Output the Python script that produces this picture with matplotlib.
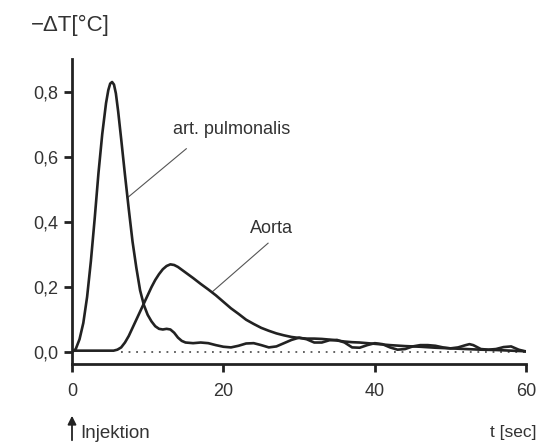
import matplotlib
matplotlib.use("Agg")
import matplotlib.pyplot as plt

plt.rcParams["font.family"] = ["Liberation Sans", "DejaVu Sans"]

# --- data ---
t_pulm = [0, 0.5, 1.0, 1.5, 2.0, 2.5, 3.0, 3.5, 4.0, 4.5, 4.8, 5.05, 5.3, 5.55, 5.8, 6.1, 6.5,
          7.0, 7.5, 8.0, 8.5, 9.0, 9.5, 10.0, 10.5, 11.0, 11.5, 12.0, 12.5, 13.0, 13.5, 14.0,
          14.5, 15.0, 16, 17, 18, 19, 20, 21, 22, 23, 24, 25, 26, 27, 28, 29, 30, 31, 32, 33,
          34, 35, 36, 37, 38, 39, 40, 41, 42, 43, 44, 45, 46, 47, 48, 49, 50, 51, 52, 52.5, 53,
          54, 55, 56, 57, 58, 59, 60]
y_pulm = [0.0, 0.01, 0.04, 0.09, 0.17, 0.28, 0.41, 0.55, 0.67, 0.765, 0.805, 0.825, 0.83,
          0.822, 0.795, 0.74, 0.655, 0.545, 0.44, 0.34, 0.26, 0.19, 0.145, 0.115, 0.095, 0.08,
          0.072, 0.07, 0.072, 0.07, 0.06, 0.045, 0.035, 0.03, 0.028, 0.03, 0.028, 0.022, 0.017,
          0.015, 0.02, 0.027, 0.028, 0.022, 0.015, 0.018, 0.028, 0.038, 0.045, 0.04, 0.03,
          0.03, 0.037, 0.038, 0.03, 0.015, 0.014, 0.022, 0.028, 0.025, 0.015, 0.008, 0.01,
          0.018, 0.022, 0.022, 0.02, 0.015, 0.012, 0.015, 0.022, 0.025, 0.022, 0.01, 0.008,
          0.01, 0.016, 0.018, 0.008, 0.002]

t_aorta = [0, 2, 4, 5.5, 6.0, 6.5, 7.0, 7.5, 8.0, 8.5, 9.0, 9.5, 10.0, 10.5, 11.0, 11.5, 12.0,
           12.5, 13.0, 13.5, 14.0, 15, 16, 17, 18, 19, 20, 21, 22, 23, 24, 25, 26, 27, 28, 29,
           30, 31, 32, 33, 34, 35, 36, 37, 38, 39, 40, 42, 44, 46, 48, 50, 52, 54, 56, 58, 60]
y_aorta = [0.005, 0.005, 0.005, 0.005, 0.008, 0.015, 0.03, 0.05, 0.075, 0.10, 0.125, 0.15,
           0.175, 0.2, 0.222, 0.24, 0.255, 0.265, 0.27, 0.268, 0.262, 0.245, 0.228, 0.21,
           0.193, 0.175, 0.155, 0.135, 0.118, 0.1, 0.087, 0.075, 0.066, 0.058, 0.052, 0.047,
           0.044, 0.042, 0.042, 0.041, 0.039, 0.036, 0.033, 0.031, 0.03, 0.028, 0.026, 0.022,
           0.019, 0.017, 0.014, 0.012, 0.01, 0.008, 0.007, 0.005, 0.003]

x_ticks = [0, 20, 40, 60]
x_ticklabels = ["0", "20", "40", "60"]
y_ticks = [0.0, 0.2, 0.4, 0.6, 0.8]
y_ticklabels = ["0,0", "0,2", "0,4", "0,6", "0,8"]

# --- figure ---
fig = plt.figure(figsize=(5.37, 4.45), dpi=100)
ax = fig.add_axes([0.134, 0.182, 0.846, 0.685])
ax.set_xlim(0, 60)
ax.set_ylim(-0.036, 0.90)

ink = "#222222"
txt = "#333333"
ax.plot(t_pulm, y_pulm, color=ink, lw=1.9, solid_capstyle="round", solid_joinstyle="round", zorder=3)
ax.plot(t_aorta, y_aorta, color=ink, lw=1.9, solid_capstyle="round", solid_joinstyle="round", zorder=3)
ax.plot([6.5, 60], [0, 0], color="#555555", lw=1.3, ls=(0, (1, 3.2)), zorder=2)

# leader lines and labels
ax.plot([15.1, 7.3], [0.625, 0.474], color="#555555", lw=0.8)
ax.plot([25.9, 18.5], [0.335, 0.185], color="#555555", lw=0.8)
ax.text(21.1, 0.683, "art. pulmonalis", ha="center", va="center", fontsize=13, color=txt)
ax.text(26.3, 0.38, "Aorta", ha="center", va="center", fontsize=13, color=txt)

for s in ["top", "right"]:
    ax.spines[s].set_visible(False)
for s in ["left", "bottom"]:
    ax.spines[s].set_linewidth(2.0)
    ax.spines[s].set_color(ink)

ax.set_xticks(x_ticks)
ax.set_xticklabels(x_ticklabels)
ax.set_yticks(y_ticks)
ax.set_yticklabels(y_ticklabels)
ax.tick_params(axis="both", direction="out", length=6, width=2.0, color=ink,
               labelsize=13, labelcolor=txt)
ax.tick_params(axis="x", pad=8)
ax.tick_params(axis="y", pad=4)

# axis titles
fig.text(31 / 537, 1 - 25 / 445, "−ΔT[°C]", fontsize=16, color=txt, ha="left", va="center")
fig.text(537 / 537, 1 - 433 / 445, "t [sec]", fontsize=12.5, color=txt, ha="right", va="center")
fig.text(80 / 537, 1 - 433 / 445, "Injektion", fontsize=13.5, color=txt, ha="left", va="center")
fig.add_artist(matplotlib.patches.FancyArrowPatch(
    (72 / 537, 1 - 443 / 445), (72 / 537, 1 - 413 / 445), transform=fig.transFigure,
    arrowstyle="-|>,head_length=5,head_width=2.5", color=ink, lw=1.3))

fig.savefig("out.png", dpi=100, facecolor="white")
